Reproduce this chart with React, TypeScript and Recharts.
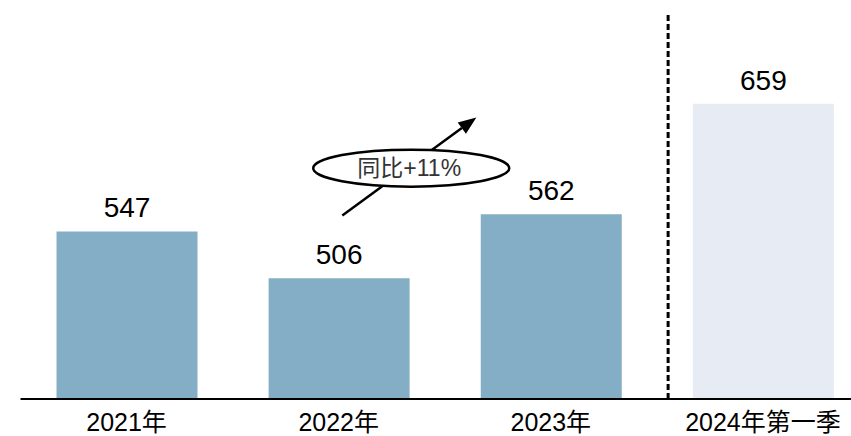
import { BarChart, Bar, XAxis, YAxis, Cell, LabelList, ReferenceLine, ReferenceDot } from 'recharts';

// values
const PERIODS = ['2021年', '2022年', '2023年', '2024年第一季'];
const VALUES = [547, 506, 562, 659];
const BAR_COLORS = ['#83AEC6', '#83AEC6', '#83AEC6', '#E7EBF3'];

// annotation anchors in data units
const YOY_TEXT = '同比+11%';
const ARROW_FROM = { x: 1.017, y: 561 };
const ARROW_TO = { x: 1.649, y: 647 };
const BUBBLE_AT = { x: 1.342, y: 602.5 };
const DIVIDER_X = 2.553;
const DIVIDER_TOP = 738;

const FONT = '"Liberation Sans", Arial, "Noto Sans CJK SC", sans-serif';

const data = PERIODS.map((p, i) => ({ idx: i, period: p, value: VALUES[i] }));

function Arrow(props: any) {
  const { x1, y1, x2, y2 } = props;
  const ang = Math.atan2(y2 - y1, x2 - x1);
  const len = 18;
  const half = 7;
  const bx = x2 - len * Math.cos(ang);
  const by = y2 - len * Math.sin(ang);
  const px = -Math.sin(ang) * half;
  const py = Math.cos(ang) * half;
  return (
    <g>
      <line x1={x1} y1={y1} x2={bx} y2={by} stroke="#000" strokeWidth={2.5} />
      <polygon points={`${x2},${y2} ${bx + px},${by + py} ${bx - px},${by - py}`} fill="#000" />
    </g>
  );
}

function Bubble(props: any) {
  const { cx, cy } = props;
  return (
    <g>
      <ellipse cx={cx} cy={cy} rx={98} ry={18.5} fill="#fff" stroke="#000" strokeWidth={2.5} />
      <text x={cx - 2} y={cy} textAnchor="middle" dominantBaseline="central" fontSize={23} fill="#333" fontFamily={FONT}>
        {YOY_TEXT}
      </text>
    </g>
  );
}

export default function App() {
  return (
    <div style={{ position: 'absolute', left: 0, top: 0, width: 851, height: 436, overflow: 'hidden', background: '#fff' }}>
      <BarChart
        width={869}
        height={436}
        data={data}
        margin={{ top: 0, right: 0, left: 20.5, bottom: 0 }}
        style={{ fontFamily: FONT }}
      >
        <XAxis
          dataKey="idx"
          type="number"
          domain={[-0.5, 3.5]}
          ticks={[0, 1, 2, 3]}
          interval={0}
          tickFormatter={(v: number) => PERIODS[v]}
          height={37}
          tickLine={false}
          tickSize={12}
          axisLine={{ stroke: '#000', strokeWidth: 2 }}
          tick={{ fill: '#000', fontSize: 25 }}
        />
        <YAxis hide domain={[400, 750]} allowDataOverflow />
        <Bar dataKey="value" barSize={141} isAnimationActive={false}>
          {data.map((d, i) => (
            <Cell key={d.period} fill={BAR_COLORS[i]} />
          ))}
          <LabelList dataKey="value" position="top" offset={14} fill="#000" fontSize={28} />
        </Bar>
        <ReferenceLine
          segment={[{ x: DIVIDER_X, y: 400 }, { x: DIVIDER_X, y: DIVIDER_TOP }]}
          stroke="#000"
          strokeWidth={3}
          strokeDasharray="6 3"
        />
        <ReferenceLine
          segment={[ARROW_FROM, ARROW_TO]}
          shape={(p: any) => <Arrow {...p} />}
        />
        <ReferenceDot x={BUBBLE_AT.x} y={BUBBLE_AT.y} shape={(p: any) => <Bubble {...p} />} />
      </BarChart>
    </div>
  );
}
